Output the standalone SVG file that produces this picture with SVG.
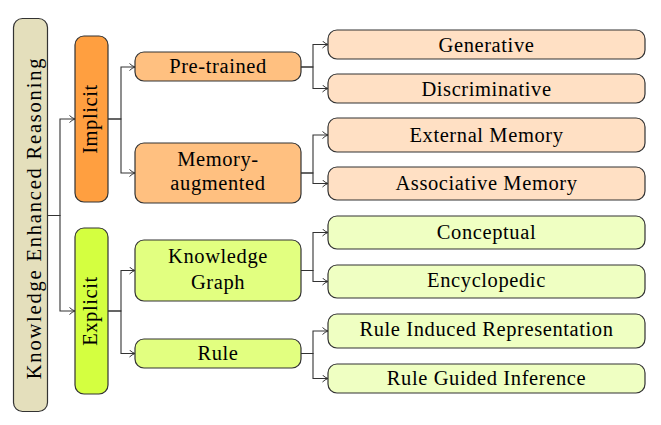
<svg xmlns="http://www.w3.org/2000/svg" width="661" height="425" viewBox="0 0 661 425">
<defs>
<marker id="arr" viewBox="0 0 6 8" refX="6" refY="4" markerWidth="6" markerHeight="8" markerUnits="userSpaceOnUse" orient="auto">
<path d="M0.5,0.5 Q3,3 6,4 Q3,5 0.5,7.5" fill="none" stroke="#333" stroke-width="1"/>
</marker>
</defs>
<style>
text{font-family:"Liberation Serif","Times New Roman",serif;font-size:20.5px;fill:#000;text-anchor:middle;letter-spacing:0.6px}
.box{stroke:#333;stroke-width:1.2}
.root{fill:#e4dfbc}
.l1o{fill:#ff9f40}
.l2o{fill:#ffc080}
.l3o{fill:#ffe0c4}
.l1g{fill:#d4ff40}
.l2g{fill:#e2ff80}
.l3g{fill:#efffc2}
.edge{fill:none;stroke:#333;stroke-width:1.1;marker-end:url(#arr)}
</style>
<g id="connectors">
<path class="edge" d="M47,215.5 H60 V119 H75"/>
<path class="edge" d="M47,215.5 H60 V311 H75"/>
<path class="edge" d="M108,119 H121 V67 H135"/>
<path class="edge" d="M108,119 H121 V173 H135"/>
<path class="edge" d="M108,311 H121 V270.5 H135"/>
<path class="edge" d="M108,311 H121 V353.5 H135"/>
<path class="edge" d="M301,67 H313 V44.5 H328"/>
<path class="edge" d="M301,67 H313 V88.5 H328"/>
<path class="edge" d="M301,173 H313 V135 H328"/>
<path class="edge" d="M301,173 H313 V183.5 H328"/>
<path class="edge" d="M301,270.5 H313 V232.5 H328"/>
<path class="edge" d="M301,270.5 H313 V281.5 H328"/>
<path class="edge" d="M301,353.5 H313 V331 H328"/>
<path class="edge" d="M301,353.5 H313 V378.5 H328"/>
</g>
<g id="root">
<rect class="box root" x="13.5" y="18.5" width="34" height="393" rx="9"/>
<text transform="translate(41,218) rotate(-90)" style="letter-spacing:1.8px">Knowledge Enhanced Reasoning</text>
</g>
<g id="implicit">
<rect class="box l1o" x="75" y="36" width="33" height="166" rx="9"/>
<text transform="translate(97,119) rotate(-90)">Implicit</text>
</g>
<g id="explicit">
<rect class="box l1g" x="75" y="228" width="33" height="166" rx="9"/>
<text transform="translate(97,311) rotate(-90)">Explicit</text>
</g>
<g id="pretrained">
<rect class="box l2o" x="135" y="52" width="166" height="29" rx="9"/>
<text x="218" y="73">Pre-trained</text>
</g>
<g id="memory">
<rect class="box l2o" x="135" y="143" width="166" height="60" rx="9"/>
<text x="218" y="166">Memory-</text>
<text x="218" y="190">augmented</text>
</g>
<g id="kg">
<rect class="box l2g" x="135" y="240" width="166" height="61" rx="9"/>
<text x="218" y="262.5">Knowledge</text>
<text x="218" y="288.5">Graph</text>
</g>
<g id="rule">
<rect class="box l2g" x="135" y="339" width="166" height="29" rx="9"/>
<text x="218" y="360">Rule</text>
</g>
<g id="generative">
<rect class="box l3o" x="328" y="30" width="317" height="29" rx="9"/>
<text x="486.5" y="52">Generative</text>
</g>
<g id="discriminative">
<rect class="box l3o" x="328" y="74" width="317" height="29" rx="9"/>
<text x="486.5" y="96">Discriminative</text>
</g>
<g id="external">
<rect class="box l3o" x="328" y="118" width="317" height="34" rx="9"/>
<text x="486.5" y="141.5">External Memory</text>
</g>
<g id="associative">
<rect class="box l3o" x="328" y="167" width="317" height="33" rx="9"/>
<text x="486.5" y="190">Associative Memory</text>
</g>
<g id="conceptual">
<rect class="box l3g" x="328" y="216" width="317" height="33" rx="9"/>
<text x="486.5" y="238.5">Conceptual</text>
</g>
<g id="encyclopedic">
<rect class="box l3g" x="328" y="265" width="317" height="33" rx="9"/>
<text x="486.5" y="286.5">Encyclopedic</text>
</g>
<g id="ruleinduced">
<rect class="box l3g" x="328" y="314" width="317" height="34" rx="9"/>
<text x="486.5" y="336">Rule Induced Representation</text>
</g>
<g id="ruleguided">
<rect class="box l3g" x="328" y="364" width="317" height="29" rx="9"/>
<text x="486.5" y="385">Rule Guided Inference</text>
</g>
</svg>
